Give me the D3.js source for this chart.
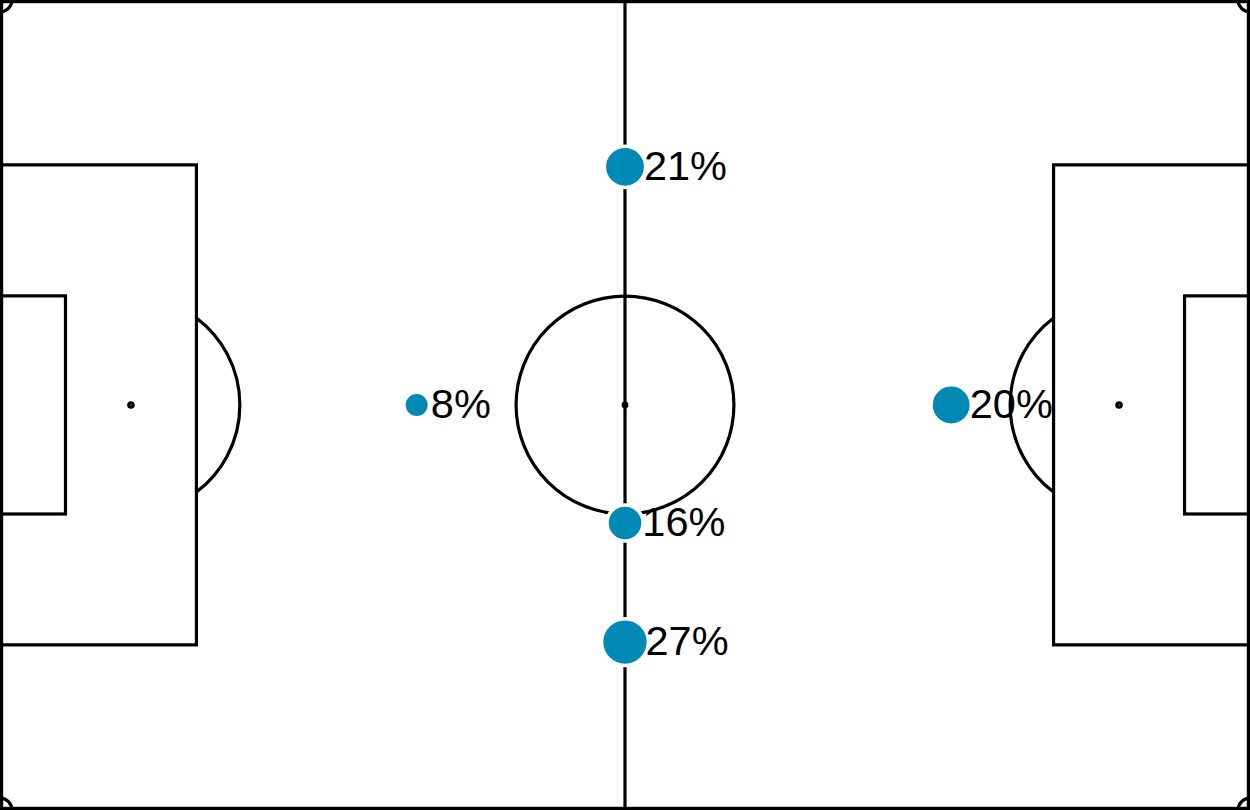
<!DOCTYPE html>
<html>
<head>
<meta charset="utf-8">
<script src="https://cdn.jsdelivr.net/npm/d3@7"></script>
<style>
  html, body { margin: 0; padding: 0; background: #fff; }
  svg { display: block; }
</style>
</head>
<body>
<script>
// Data
const labels = ["21%", "16%", "27%", "8%", "20%"];
const values = [21, 16, 27, 8, 20];
const posX = [52.5, 52.5, 52.5, 35, 79.9];   // metres along pitch length
const posY = [14.0, 43.9, 53.9, 34, 34];     // metres across pitch width

// Pitch dimensions (metres)
const pitchLength = 105, pitchWidth = 68;

const W = 1250, H = 810;
const svg = d3.select("body").append("svg").attr("width", W).attr("height", H);

const x = d3.scaleLinear().domain([0, pitchLength]).range([0, W]);
const y = d3.scaleLinear().domain([0, pitchWidth]).range([0, H]);
const k = x(1) - x(0);

const lineW = 3.2;
const g = svg.append("g").attr("fill", "none").attr("stroke", "#000").attr("stroke-width", lineW);

// Outer boundary
g.append("rect").attr("x", lineW / 2).attr("y", lineW / 2)
  .attr("width", W - lineW).attr("height", H - lineW);

// Halfway line
g.append("line").attr("x1", x(pitchLength / 2)).attr("x2", x(pitchLength / 2))
  .attr("y1", 0).attr("y2", H);

// Centre circle and spot
g.append("circle").attr("cx", x(pitchLength / 2)).attr("cy", y(pitchWidth / 2)).attr("r", 9.15 * k);
g.append("circle").attr("cx", x(pitchLength / 2)).attr("cy", y(pitchWidth / 2)).attr("r", 1.8)
  .attr("fill", "#000");

const boxW = 40.32, sixW = 18.32;
[0, 1].forEach(side => {
  const gx = side === 0 ? 0 : pitchLength;
  const dir = side === 0 ? 1 : -1;
  // penalty box
  const bx0 = Math.min(gx, gx + dir * 16.5);
  g.append("rect").attr("x", x(bx0)).attr("y", y((pitchWidth - boxW) / 2))
    .attr("width", 16.5 * k).attr("height", boxW * k);
  // six-yard box
  const sx0 = Math.min(gx, gx + dir * 5.5);
  g.append("rect").attr("x", x(sx0)).attr("y", y((pitchWidth - sixW) / 2))
    .attr("width", 5.5 * k).attr("height", sixW * k);
  // penalty spot
  const spx = gx + dir * 11;
  g.append("circle").attr("cx", x(spx)).attr("cy", y(pitchWidth / 2)).attr("r", 2.2);
  // penalty arc
  const th = Math.acos(5.5 / 9.15);
  const arc = d3.arc().innerRadius(9.15 * k).outerRadius(9.15 * k)
    .startAngle(side === 0 ? Math.PI / 2 - th : -Math.PI / 2 - th)
    .endAngle(side === 0 ? Math.PI / 2 + th : -Math.PI / 2 + th);
  g.append("path").attr("d", arc())
    .attr("transform", `translate(${x(spx)},${y(pitchWidth / 2)})`);
});

// Corner arcs
const cornerR = 1 * k;
[[0, 0, Math.PI / 2, Math.PI], [pitchLength, 0, Math.PI, 1.5 * Math.PI],
 [0, pitchWidth, 0, Math.PI / 2], [pitchLength, pitchWidth, -Math.PI / 2, 0]].forEach(c => {
  const arc = d3.arc().innerRadius(cornerR).outerRadius(cornerR).startAngle(c[2]).endAngle(c[3]);
  g.append("path").attr("d", arc()).attr("transform", `translate(${x(c[0])},${y(c[1])})`);
});

// Bubbles
const r = d3.scaleSqrt().domain([0, 27]).range([0, 23.4]);
const pts = values.map((v, i) => ({ v, label: labels[i], px: posX[i], py: posY[i] }));

svg.append("g").selectAll("circle").data(pts).join("circle")
  .attr("cx", d => x(d.px)).attr("cy", d => y(d.py)).attr("r", d => r(d.v))
  .attr("fill", "#0089b5").attr("stroke", "#fff").attr("stroke-width", 3.5);

svg.append("g").selectAll("text").data(pts).join("text")
  .attr("x", d => x(d.px) + 0.6 * r(d.v) + 6.5)
  .attr("y", d => y(d.py) - 1.5)
  .attr("dy", "0.35em")
  .attr("font-family", "Liberation Sans, Arial, sans-serif")
  .attr("font-size", 41.5)
  .attr("fill", "#000")
  .text(d => d.label);
</script>
</body>
</html>
